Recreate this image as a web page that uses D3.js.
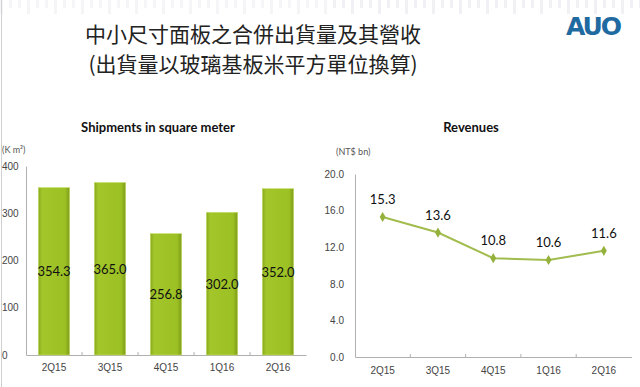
<!DOCTYPE html>
<html lang="zh-Hant">
<head>
  <meta charset="UTF-8">
  <title>中小尺寸面板之合併出貨量及其營收</title>
  <script src="https://cdnjs.cloudflare.com/ajax/libs/d3/7.8.5/d3.min.js"></script>
  <style>
    body { margin: 0; background: #fff; }
    svg { display: block; font-family: Lato, "Open Sans", sans-serif; }
    .title { font-family: "Noto Sans CJK TC", sans-serif; fill: #222; text-anchor: middle; }
    .ctitle { font-weight: bold; font-size: 13px; fill: #111; text-anchor: middle; }
    .unit { font-size: 9px; fill: #555; }
    .axis text { font-size: 10px; fill: #444; }
    .axis path, .axis line { stroke: #b0b0b0; }
    .val { font-size: 13px; fill: #111; text-anchor: middle; }
  </style>
</head>
<body>
  <svg width="640" height="387"></svg>
  <script>
    // 數據
    var quarters = ['2Q15', '3Q15', '4Q15', '1Q16', '2Q16']
    var shipments = [354.3, 365.0, 256.8, 302.0, 352.0]
    var revenues = [15.3, 13.6, 10.8, 10.6, 11.6]
    var shipTicks = [0, 100, 200, 300, 400]
    var revTicks = [0, 4, 8, 12, 16, 20]

    var svg = d3.select('svg')

    // 左邊細灰線
    svg.append('line')
      .attr('x1', 1.5).attr('x2', 1.5).attr('y1', 0).attr('y2', 387)
      .attr('stroke', '#d0d0d0')

    // 上方淡色條紋背景
    var stripes = svg.append('g').attr('opacity', 0.25)
    d3.range(0, 640, 9).forEach(function (x, i) {
      stripes.append('rect')
        .attr('x', x).attr('y', 0)
        .attr('width', 3).attr('height', i % 3 === 0 ? 14 : 8)
        .attr('fill', x > 330 ? '#c9cbd8' : '#d8d8e0')
    })

    // 標題
    svg.append('text').attr('class', 'title')
      .attr('x', 253).attr('y', 42).attr('font-size', 21)
      .text('中小尺寸面板之合併出貨量及其營收')
    svg.append('text').attr('class', 'title')
      .attr('x', 253).attr('y', 72).attr('font-size', 21)
      .text('(出貨量以玻璃基板米平方單位換算)')

    // AUO logo
    svg.append('text')
      .attr('x', 593).attr('y', 35)
      .attr('text-anchor', 'middle')
      .attr('font-family', '"DejaVu Sans", sans-serif')
      .attr('font-weight', 'bold')
      .attr('font-size', 24).attr('letter-spacing', -2)
      .attr('fill', '#1f6aa0')
      .attr('textLength', 54).attr('lengthAdjust', 'spacingAndGlyphs')
      .text('AUO')

    // ===== 出貨量 長條圖 =====
    var x1 = d3.scaleBand().domain(quarters).range([26, 306]).paddingInner(0.44).paddingOuter(0.22)
    var y1 = d3.scaleLinear().domain([0, 400]).range([355, 166])

    var defs = svg.append('defs')
    var grad = defs.append('linearGradient').attr('id', 'barg')
    grad.append('stop').attr('offset', '0%').attr('stop-color', '#86a81c')
    grad.append('stop').attr('offset', '12%').attr('stop-color', '#a3c62b')
    grad.append('stop').attr('offset', '85%').attr('stop-color', '#9cc124')
    grad.append('stop').attr('offset', '100%').attr('stop-color', '#7d9b19')

    svg.append('text').attr('class', 'ctitle').attr('x', 158).attr('y', 132)
      .text('Shipments in square meter')
    svg.append('text').attr('class', 'unit').attr('x', 2).attr('y', 153)
      .text('(K m²)')

    var ax1 = svg.append('g').attr('class', 'axis')
      .attr('transform', 'translate(26,0)')
      .call(d3.axisLeft(y1).tickValues(shipTicks).tickSize(0).tickPadding(10))
    ax1.selectAll('text').attr('text-anchor', 'start').attr('x', -24)

    svg.append('g').attr('class', 'axis')
      .attr('transform', 'translate(0,355)')
      .call(d3.axisBottom(x1).tickSize(0).tickPadding(9).tickSizeOuter(0))
    svg.append('g')
      .selectAll('line').data(quarters.slice(1)).join('line')
      .attr('x1', function (d) { return x1(d) - x1.step() * x1.paddingInner() / 2 })
      .attr('x2', function (d) { return x1(d) - x1.step() * x1.paddingInner() / 2 })
      .attr('y1', 352).attr('y2', 355).attr('stroke', '#b0b0b0')

    svg.append('g').selectAll('rect').data(shipments).join('rect')
      .attr('x', function (d, i) { return x1(quarters[i]) })
      .attr('y', function (d) { return y1(d) })
      .attr('width', x1.bandwidth())
      .attr('height', function (d) { return y1(0) - y1(d) })
      .attr('fill', 'url(#barg)')
      .attr('stroke', '#c5de6a').attr('stroke-width', 0.6)

    svg.append('g').selectAll('text').data(shipments).join('text')
      .attr('class', 'val')
      .attr('x', function (d, i) { return x1(quarters[i]) + x1.bandwidth() / 2 })
      .attr('y', function (d) { return (y1(d) + y1(0)) / 2 + 5 })
      .text(function (d) { return d.toFixed(1) })

    // ===== 營收 折線圖 =====
    var x2 = d3.scaleBand().domain(quarters).range([355, 631.5])
    var y2 = d3.scaleLinear().domain([0, 20]).range([357, 174])

    svg.append('text').attr('class', 'ctitle').attr('x', 471).attr('y', 132)
      .text('Revenues')
    svg.append('text').attr('class', 'unit').attr('x', 336).attr('y', 155)
      .text('(NT$ bn)')

    svg.append('g').attr('class', 'axis')
      .attr('transform', 'translate(355,0)')
      .call(d3.axisLeft(y2).tickValues(revTicks).tickFormat(d3.format('.1f')).tickSize(0).tickPadding(11))

    svg.append('g').attr('class', 'axis')
      .attr('transform', 'translate(0,357)')
      .call(d3.axisBottom(x2).tickSize(0).tickPadding(10).tickSizeOuter(0))
    svg.append('g')
      .selectAll('line').data(quarters.slice(1)).join('line')
      .attr('x1', function (d) { return x2(d) })
      .attr('x2', function (d) { return x2(d) })
      .attr('y1', 354).attr('y2', 357).attr('stroke', '#b0b0b0')

    var cx = function (d, i) { return x2(quarters[i]) + x2.bandwidth() / 2 }
    var line = d3.line().x(cx).y(function (d) { return y2(d) })

    svg.append('path').datum(revenues)
      .attr('d', line)
      .attr('fill', 'none')
      .attr('stroke', '#a2bc4e').attr('stroke-width', 2)

    svg.append('g').selectAll('path').data(revenues).join('path')
      .attr('d', d3.symbol(d3.symbolDiamond, 30))
      .attr('transform', function (d, i) { return 'translate(' + cx(d, i) + ',' + y2(d) + ')' })
      .attr('fill', '#94b13c')

    svg.append('g').selectAll('text').data(revenues).join('text')
      .attr('class', 'val')
      .attr('x', cx)
      .attr('y', function (d) { return y2(d) - 13 })
      .text(function (d) { return d.toFixed(1) })
  </script>
</body>
</html>
